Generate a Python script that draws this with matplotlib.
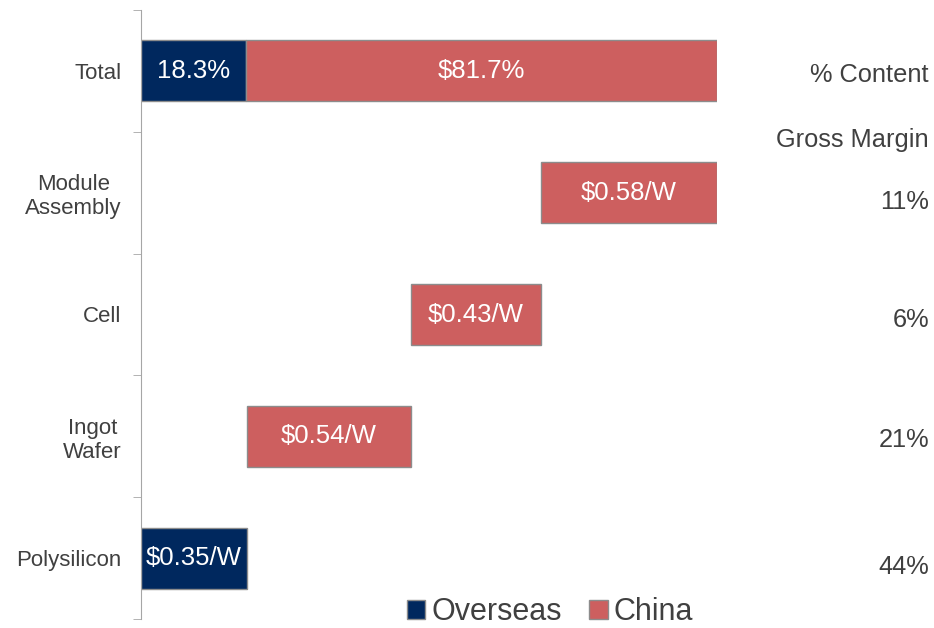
"""
Waterfall of solar module cost content, overseas vs China.
"""
import numpy as np
import matplotlib
matplotlib.use("Agg")
import matplotlib.pyplot as plt
from matplotlib.patches import Patch

plt.rcParams["font.family"] = ["Liberation Sans", "DejaVu Sans"]

STAGES = ["Polysilicon", "Ingot\nWafer", "Cell", "Module\nAssembly"]
STAGE_COST = [0.35, 0.54, 0.43, 0.58]
STAGE_SOURCE = ["Overseas", "China", "China", "China"]
GROSS_MARGIN = ["44%", "21%", "6%", "11%"]
TOTAL_SHARE = [18.3, 81.7]
TOTAL_SHARE_LABELS = ["18.3%", "$81.7%"]

NAVY = "#00285E"
RED = "#CD5F5F"
EDGE = "#8C8C8C"
GREY = "#404040"
COLORS = {"Overseas": NAVY, "China": RED}

fig = plt.figure(figsize=(9.34, 6.28), dpi=100)
ax = fig.add_axes([141 / 934, 9 / 628, 576 / 934, 609 / 628])

height = 0.5
lefts = np.concatenate([[0], np.cumsum(STAGE_COST)[:-1]])
for i, (left, cost, src) in enumerate(zip(lefts, STAGE_COST, STAGE_SOURCE)):
    ax.barh(i, cost, left=left, height=height, color=COLORS[src],
            edgecolor=EDGE, linewidth=1)
    ax.text(left + cost / 2, i, f"${cost:.2f}/W", ha="center", va="center",
            color="white", fontsize=18.5)

total = sum(STAGE_COST)
total_parts = [total * s / 100 for s in TOTAL_SHARE]
total_left = 0
for part, src, lab in zip(total_parts, ["Overseas", "China"], TOTAL_SHARE_LABELS):
    ax.barh(4, part, left=total_left, height=height, color=COLORS[src],
            edgecolor=EDGE, linewidth=1)
    ax.text(total_left + part / 2, 4, lab, ha="center", va="center",
            color="white", fontsize=18.5)
    total_left += part

ax.set_xlim(0, total)
ax.set_ylim(-0.5, 4.5)
ax.set_yticks(range(5))
ax.set_yticklabels(STAGES + ["Total"], fontsize=16, color=GREY,
                   multialignment="center")
ax.set_yticks(np.arange(-0.5, 5, 1), minor=True)
ax.tick_params(axis="y", which="major", length=0, pad=14)
ax.tick_params(axis="y", which="minor", length=6, color="#A6A6A6")
ax.set_xticks([])
for side in ["top", "right", "bottom"]:
    ax.spines[side].set_visible(False)
ax.spines["left"].set_color("#A6A6A6")

# right-hand annotations
fig.text(929 / 934, 1 - 75 / 628, "% Content", ha="right", va="center",
         fontsize=18.3, color=GREY)
fig.text(929 / 934, 1 - 140 / 628, "Gross Margin", ha="right", va="center",
         fontsize=18.3, color=GREY)
for i, gm in enumerate(GROSS_MARGIN):
    y_px = [567, 440, 320, 202][i]
    fig.text(929 / 934, 1 - y_px / 628, gm, ha="right", va="center",
             fontsize=18.3, color=GREY)

handles = [Patch(facecolor=NAVY, edgecolor=EDGE), Patch(facecolor=RED, edgecolor=EDGE)]
fig.legend(handles, ["Overseas", "China"], loc="center", ncol=2,
           bbox_to_anchor=(550 / 934, 1 - 612 / 628), frameon=False,
           fontsize=22, handlelength=0.6, handleheight=0.6,
           handletextpad=0.2, columnspacing=0.9, labelcolor=GREY)

fig.savefig("out.png", dpi=100)
